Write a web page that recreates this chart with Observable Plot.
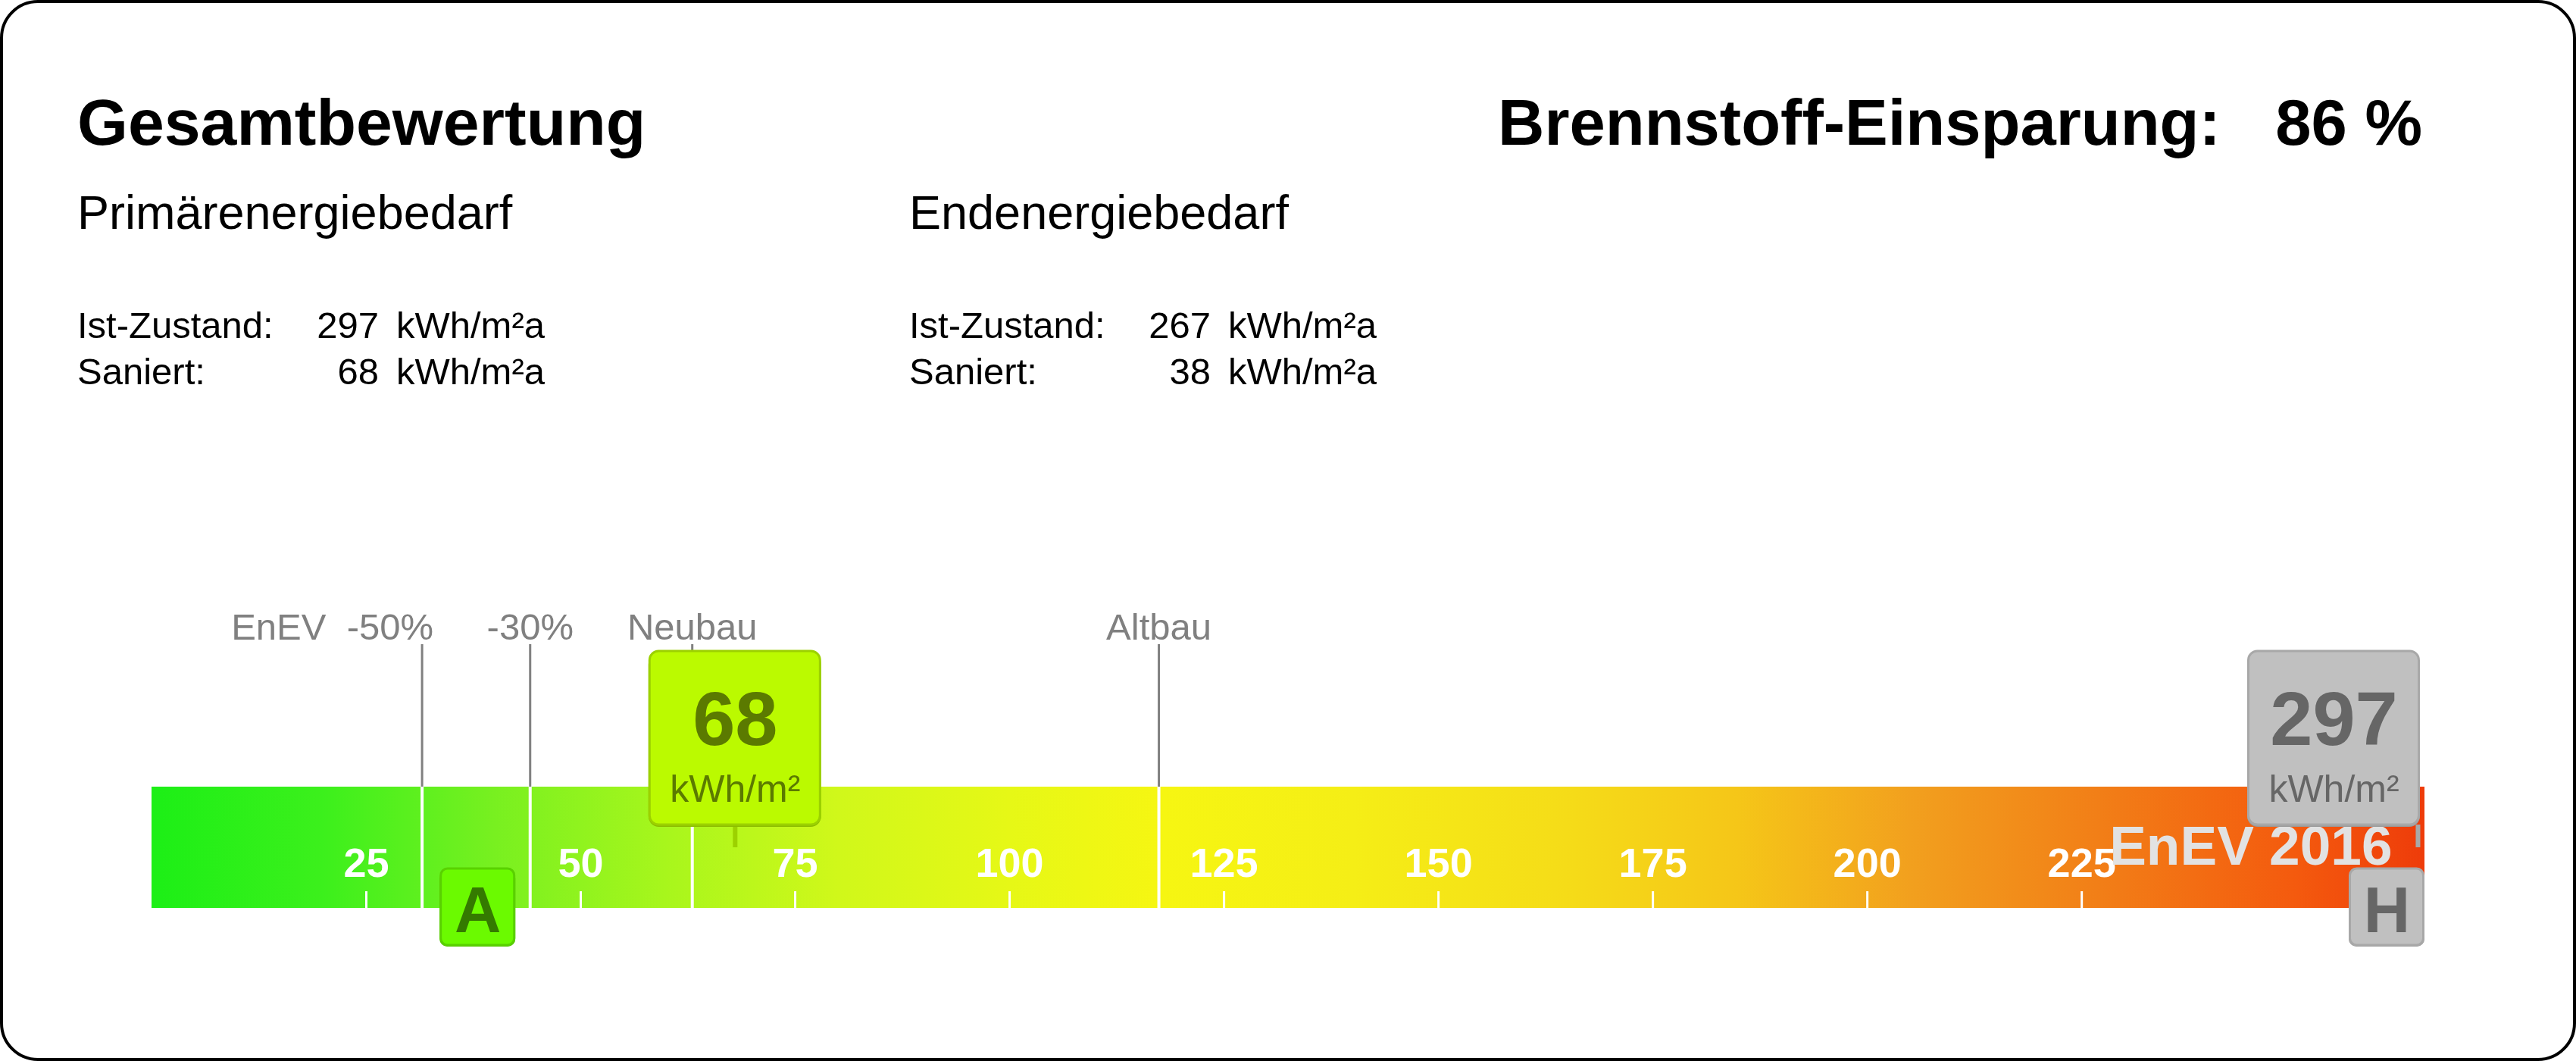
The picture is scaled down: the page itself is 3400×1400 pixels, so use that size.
<!DOCTYPE html>
<html>
<head>
<meta charset="utf-8">
<script src="https://cdn.jsdelivr.net/npm/d3@7"></script>
<script src="https://cdn.jsdelivr.net/npm/@observablehq/plot@0.6"></script>
<style>
  html, body { margin: 0; padding: 0; background: #fff; }
  #page { position: relative; width: 3400px; height: 1400px; overflow: hidden;
          font-family: "Liberation Sans", Arial, sans-serif; color: #000; }
  #frame { position: absolute; left: 0; top: 0; width: 3392px; height: 1392px;
           border: 4px solid #000; border-radius: 50px; pointer-events: none; }
  .t { position: absolute; white-space: pre; line-height: 1; }
  #chart { position: absolute; left: 0; top: 700px; }
</style>
</head>
<body>
<div id="page"><div id="chart"></div><div id="frame"></div></div>
<script>
// ---------------- DATA ----------------
const titleText = "Gesamtbewertung";
const savingLabel = "Brennstoff-Einsparung:";
const savingPercent = 86;
const sectionNames = ["Primärenergiebedarf", "Endenergiebedarf"];
const rowLabels = ["Ist-Zustand:", "Saniert:"];
const primaryValues = [297, 68];   // Ist, Saniert
const finalValues = [267, 38];     // Ist, Saniert
const unitYear = "kWh/m²a";
const unitBox = "kWh/m²";

const scaleMax = 265;
const tickValues = [25, 50, 75, 100, 125, 150, 175, 200, 225];
const refLabels = ["EnEV\u00a0\u00a0-50%", "-30%", "Neubau", "Altbau"];
const refValues = [31.5, 44.1, 63, 117.4];
const standardName = "EnEV 2016";
const classBounds = [30, 50, 75, 100, 130, 160, 200, 250];
const classNames = ["A+", "A", "B", "C", "D", "E", "F", "G", "H"];
const gradStops = [0, 20, 40, 60, 80, 100, 118, 140, 165, 185, 205, 230, 250, 265];
const gradColors = ["#1cef16", "#3cf01c", "#78f020", "#a8f61c", "#d0f81a", "#e6f816", "#f6f612",
                    "#f5ee16", "#f5dc18", "#f5c618", "#f2a01e", "#f27a16", "#f45a0e", "#ee3c0a"];

// ---------------- LAYOUT ----------------
const L = {
  width: 3400, height: 600, xRange: [200, 3200],
  labelBase: 143, greyTop: 150, barTop: 338, barBottom: 498,
  boxTop: 159, boxBottom: 388, boxHalf: 114, numBase: 282, unitBase: 357,
  pointerBottom: 418, tickTop: 476, tickLabelBase: 456, stdBase: 440,
  clsTop: 446, clsBottom: 547, clsHalf: 50, clsBase: 529
};
const pxPerUnit = (L.xRange[1] - L.xRange[0]) / scaleMax;

// ---------------- HEADER (HTML) ----------------
const page = document.getElementById("page");
function addText(txt, x, baseline, size, weight, align) {
  const d = document.createElement("div");
  d.className = "t";
  d.textContent = txt;
  d.style.fontSize = size + "px";
  d.style.fontWeight = weight;
  d.style.top = (baseline - 0.8465 * size) + "px";
  if (align === "right") d.style.right = (3400 - x) + "px"; else d.style.left = x + "px";
  page.appendChild(d);
}
addText(titleText, 102, 191, 86, "bold");
addText(savingLabel, 1977, 191, 85, "bold");
addText(savingPercent + " %", 3197, 191, 85, "bold", "right");
const sectionX = [102, 1200];
const rowBase = [446, 507];
[primaryValues, finalValues].forEach((vals, s) => {
  const x0 = sectionX[s];
  addText(sectionNames[s], x0, 302, 63, "normal");
  rowLabels.forEach((lab, r) => {
    addText(lab, x0, rowBase[r], 49, "normal");
    addText(String(vals[r]), x0 + 398, rowBase[r], 49, "normal", "right");
    addText(unitYear, x0 + 421, rowBase[r], 49, "normal");
  });
});

// ---------------- CHART (Plot) ----------------
const barColor = d3.scaleLinear(gradStops, gradColors).interpolate(d3.interpolateRgb).clamp(true);
const refs = refLabels.map((label, i) => ({label, value: refValues[i]}));
const states = ["ist", "saniert"];
function styleFor(state, v) {
  if (state === "ist") return {fill: "#c0c0c0", stroke: "#a8a8a8", shade: "#9a9a9a", text: "#666666"};
  const h = d3.hsl(barColor(v));
  const box = d3.hsl(h.h - 2, 1, 0.49);
  const c = d3.rgb(box);
  return {fill: c.formatHex(), stroke: c.darker(0.5).formatHex(),
          shade: c.darker(0.8).formatHex(), text: c.darker(2).formatHex()};
}
const valueBoxes = primaryValues.map((v, i) => ({
  value: v, label: String(v), state: states[i],
  cx: Math.min(v, scaleMax - (L.boxHalf + 6) / pxPerUnit),
  px: Math.min(v, scaleMax - 0.8),
  ...styleFor(states[i], v)
}));
const classBoxes = finalValues.map((v, i) => ({
  value: v, label: classNames[d3.bisectRight(classBounds, v)], state: states[i],
  cx: Math.min(v, scaleMax - L.clsHalf / pxPerUnit),
  ...styleFor(states[i], v)
}));

const font = "Liberation Sans, Arial, sans-serif";
const chart = Plot.plot({
  width: L.width, height: L.height, margin: 0,
  x: {domain: [0, scaleMax], range: L.xRange, axis: null},
  y: {type: "identity", axis: null},
  color: {type: "identity"},
  style: {fontFamily: font, background: "transparent", overflow: "visible"},
  marks: [
    // gradient scale bar
    Plot.rect([scaleMax], {x1: () => 0, x2: d => d, y1: L.barTop, y2: L.barBottom, fill: "url(#scaleGradient)"}),
    // white reference separators inside the bar
    Plot.ruleX(refs, {x: "value", y1: L.barTop, y2: L.barBottom, stroke: "#ffffff", strokeWidth: 4}),
    // ticks and tick labels
    Plot.ruleX(tickValues, {x: d => d, y1: L.tickTop, y2: L.barBottom, stroke: "#ffffff", strokeWidth: 3}),
    Plot.text(tickValues, {x: d => d, y: L.tickLabelBase, text: d => String(d), fill: "#ffffff",
      fontSize: 54, fontWeight: "bold", lineAnchor: "bottom", fontFamily: font}),
    // standard name
    Plot.text([standardName], {x: () => scaleMax, y: L.stdBase, text: d => d, textAnchor: "end", dx: -43,
      fill: "#e2e2e2", fontSize: 73, fontWeight: "bold", lineAnchor: "bottom", fontFamily: font}),
    // grey reference lines above bar
    Plot.ruleX(refs, {x: "value", y1: L.greyTop, y2: L.barTop, stroke: "#808080", strokeWidth: 3}),
    Plot.text(refs.slice(0, 1), {x: "value", y: L.labelBase, text: "label", textAnchor: "end", dx: 15,
      fill: "#808080", fontSize: 49, lineAnchor: "bottom", fontFamily: font}),
    Plot.text(refs.slice(1), {x: "value", y: L.labelBase, text: "label", textAnchor: "middle",
      fill: "#808080", fontSize: 49, lineAnchor: "bottom", fontFamily: font}),
    // value pointers
    Plot.ruleX(valueBoxes, {x: "px", y1: L.boxBottom, y2: L.pointerBottom, stroke: "stroke", strokeWidth: 6}),
    // value boxes (shade + box)
    Plot.rect(valueBoxes, {x1: "cx", x2: "cx", y1: L.boxTop + 4, y2: L.boxBottom + 3,
      insetLeft: -L.boxHalf, insetRight: -L.boxHalf, rx: 14, fill: "shade"}),
    Plot.rect(valueBoxes, {x1: "cx", x2: "cx", y1: L.boxTop, y2: L.boxBottom,
      insetLeft: -L.boxHalf + 1.5, insetRight: -L.boxHalf + 1.5, rx: 12, fill: "fill", stroke: "stroke", strokeWidth: 3}),
    Plot.text(valueBoxes, {x: "cx", y: L.numBase, text: "label", fill: "text", fontSize: 101,
      fontWeight: "bold", lineAnchor: "bottom", fontFamily: font}),
    Plot.text(valueBoxes, {x: "cx", y: L.unitBase, text: () => unitBox, fill: "text", fontSize: 50,
      lineAnchor: "bottom", fontFamily: font}),
    // class boxes
    Plot.rect(classBoxes, {x1: "cx", x2: "cx", y1: L.clsTop + 3, y2: L.clsBottom + 2,
      insetLeft: -L.clsHalf, insetRight: -L.clsHalf, rx: 10, fill: "shade"}),
    Plot.rect(classBoxes, {x1: "cx", x2: "cx", y1: L.clsTop, y2: L.clsBottom,
      insetLeft: -L.clsHalf + 1.5, insetRight: -L.clsHalf + 1.5, rx: 9, fill: "fill", stroke: "stroke", strokeWidth: 3}),
    Plot.text(classBoxes, {x: "cx", y: L.clsBase, text: "label", fill: "text", fontSize: 85,
      fontWeight: "bold", lineAnchor: "bottom", fontFamily: font})
  ]
});

// gradient definition for the bar, built from the colour stops
const defs = d3.select(chart).insert("defs", ":first-child");
const grad = defs.append("linearGradient").attr("id", "scaleGradient")
  .attr("x1", 0).attr("x2", 1).attr("y1", 0).attr("y2", 0);
gradStops.forEach((v, i) => grad.append("stop").attr("offset", v / scaleMax).attr("stop-color", gradColors[i]));

document.getElementById("chart").appendChild(chart);
</script>
</body>
</html>
